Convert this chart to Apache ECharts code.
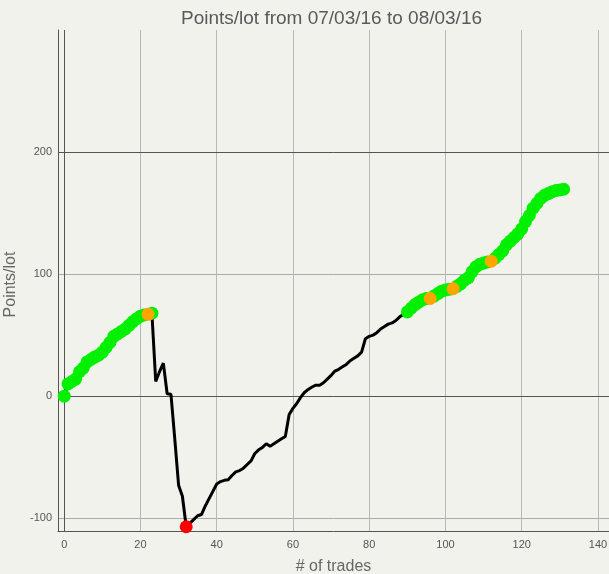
<!DOCTYPE html>
<html>
<head>
<meta charset="utf-8">
<title>Points/lot</title>
<script src="https://cdn.jsdelivr.net/npm/echarts@6/dist/echarts.min.js"></script>
<style>
  html, body { margin: 0; padding: 0; background: #f2f2ed; }
  #chart { width: 609px; height: 574px; }
</style>
</head>
<body>
<div id="chart"></div>
<script>
// cumulative points/lot after each trade, index = trade number
const pointsPerLot = [
  0, 10, 12, 14, 20, 23, 28, 30, 32, 33.5,
  36, 40, 44, 49, 51, 53, 55, 58, 61, 63.5,
  65.5, 66.5, 67, 68, 12, 20, 27, 2, 1.5, -35,
  -73, -82, -107, -104, -101, -98, -97, -90, -84, -78,
  -72, -70, -69, -68.5, -65, -62, -61, -59, -56, -53,
  -47, -44, -42, -39, -41, -39, -37, -35, -33, -15,
  -10, -6, -1, 3, 5.5, 7.5, 9, 9, 11, 14,
  17, 20.5, 22, 24, 26, 29, 31, 33, 36, 47,
  49, 50, 52, 55, 57, 59, 60, 62, 65, 67,
  69, 72, 75, 77, 79, 80, 80, 82, 84, 86,
  87, 87.5, 88, 90, 92, 95, 97, 102, 106, 108,
  109, 110, 110.5, 113, 116, 119, 124, 127, 130, 133,
  137, 143, 148, 154, 158, 162, 164.5, 166, 167.5, 168.5,
  169, 169.5
]
const orangeTrades = [22, 96, 102, 112]
const redTrades = [32]
const xTickLabels = [0, 20, 40, 60, 80, 100, 120, 140]
const yTickLabels = [-100, 0, 100, 200]

const fontFamily = 'Liberation Sans'

const linePoints = pointsPerLot.map((v, i) => [i, v])

// new equity highs get a green dot
const greenPoints = []
let best = -Infinity
pointsPerLot.forEach((v, i) => {
  if (v > best) {
    best = v
    if (!orangeTrades.includes(i) && !redTrades.includes(i)) greenPoints.push([i, v])
  }
})
const orangePoints = orangeTrades.map((i) => [i, pointsPerLot[i]])
const redPoints = redTrades.map((i) => [i, pointsPerLot[i]])

const chart = echarts.init(document.getElementById('chart'))

chart.setOption({
  backgroundColor: '#f2f2ed',
  animation: false,
  title: {
    text: 'Points/lot from 07/03/16 to 08/03/16',
    left: 176,
    top: 4,
    textStyle: {
      fontFamily: fontFamily,
      fontSize: 19,
      fontWeight: 'normal',
      color: '#595959',
    },
  },
  grid: {
    left: 58,
    right: 0,
    top: 30,
    bottom: 43,
    outerBoundsMode: 'none',
  },
  xAxis: {
    type: 'value',
    min: -1.63,
    max: 142.9,
    splitNumber: 7,
    name: '# of trades',
    nameLocation: 'middle',
    nameGap: 28,
    nameTextStyle: {
      fontFamily: fontFamily,
      fontSize: 16,
      color: '#666',
    },
    axisLine: {
      onZero: false,
      lineStyle: { color: '#555' },
    },
    axisTick: { show: false },
    axisLabel: {
      margin: 8,
      fontFamily: fontFamily,
      fontSize: 11,
      color: '#555',
      formatter: (v) => (xTickLabels.includes(v) ? String(v) : ''),
    },
    splitLine: {
      show: true,
      showMinLine: false,
      showMaxLine: false,
      lineStyle: { color: '#b8b8b8' },
    },
  },
  yAxis: {
    type: 'value',
    min: -110.5,
    max: 300,
    splitNumber: 5,
    name: 'Points/lot',
    nameLocation: 'middle',
    nameGap: 31,
    nameTextStyle: {
      fontFamily: fontFamily,
      fontSize: 16,
      color: '#666',
      padding: [0, 8, 0, 0],
    },
    axisLine: {
      show: true,
      onZero: false,
      lineStyle: { color: '#555' },
    },
    axisTick: { show: false },
    axisLabel: {
      margin: 6,
      fontFamily: fontFamily,
      fontSize: 11,
      color: '#555',
      formatter: (v) => (yTickLabels.includes(v) ? String(v) : ''),
    },
    splitLine: {
      show: true,
      showMinLine: false,
      showMaxLine: false,
      lineStyle: { color: '#aaaaaa' },
    },
  },
  series: [
    {
      type: 'line',
      data: linePoints,
      symbol: 'none',
      silent: true,
      lineStyle: { color: '#000', width: 3 },
      z: 2,
      markLine: {
        silent: true,
        symbol: 'none',
        z: 1,
        label: { show: false },
        lineStyle: { color: '#555', type: 'solid', width: 1 },
        data: [{ yAxis: 0 }, { yAxis: 200 }, { xAxis: 0 }],
      },
    },
    {
      type: 'scatter',
      data: greenPoints,
      symbolSize: 13,
      silent: true,
      itemStyle: { color: '#00f000', opacity: 1 },
      z: 3,
    },
    {
      type: 'scatter',
      data: orangePoints,
      symbolSize: 13,
      silent: true,
      itemStyle: { color: '#ffa500', opacity: 1 },
      z: 4,
    },
    {
      type: 'scatter',
      data: redPoints,
      symbolSize: 13,
      silent: true,
      itemStyle: { color: '#ff0000', opacity: 1 },
      z: 5,
    },
  ],
})
</script>
</body>
</html>
